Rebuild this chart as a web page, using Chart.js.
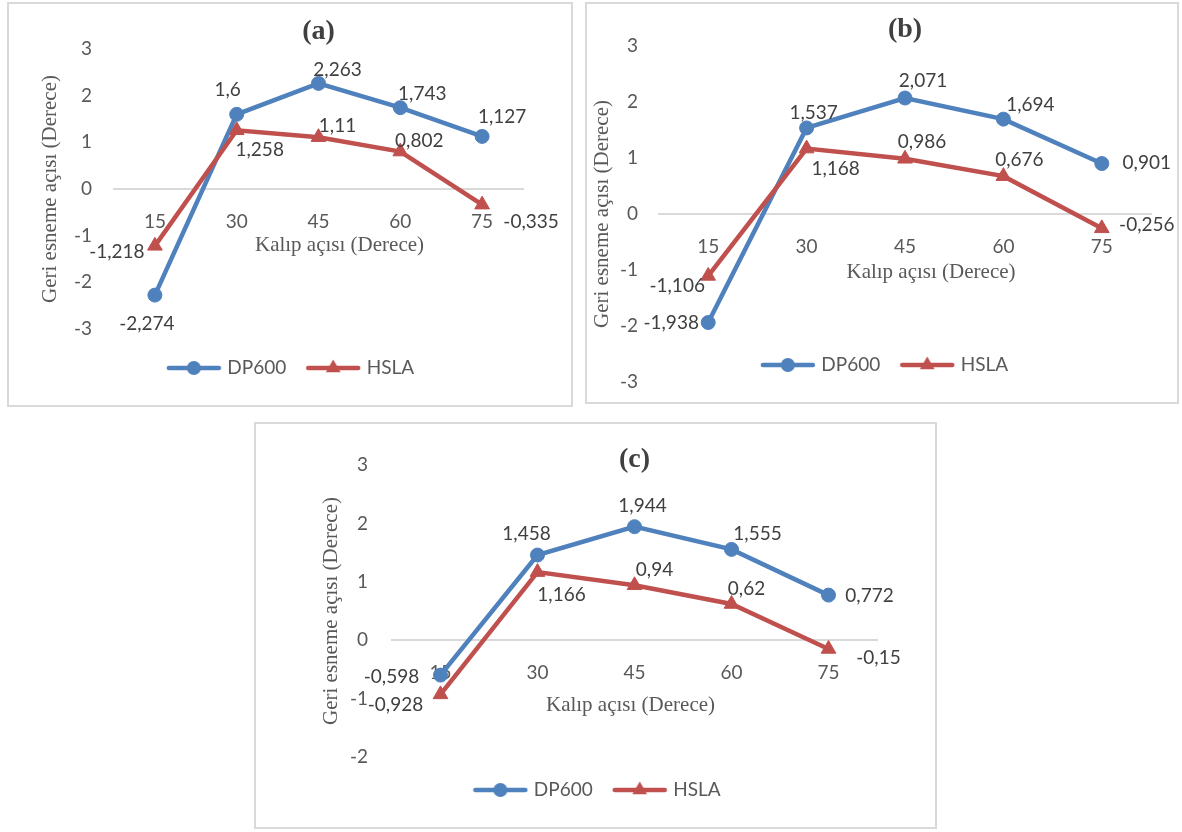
<!DOCTYPE html>
<html><head><meta charset="utf-8">
<script src="https://cdn.jsdelivr.net/npm/chart.js@4.4.1/dist/chart.umd.min.js"></script>
<style>
html,body{margin:0;padding:0;background:#fff;}
body{width:1182px;height:832px;position:relative;overflow:hidden;}
.box{position:absolute;}
.box canvas{position:absolute;left:0;top:0;}
.frame{position:absolute;left:0;top:0;right:0;bottom:0;border:2px solid #d9d9d9;box-sizing:border-box;pointer-events:none;}
</style></head><body>
<div class="box" id="boxA"><canvas id="cA"></canvas><div class="frame"></div></div>
<div class="box" id="boxB"><canvas id="cB"></canvas><div class="frame"></div></div>
<div class="box" id="boxC"><canvas id="cC"></canvas><div class="frame"></div></div>
<script>
// ---------- data ----------
const categories = ['15', '30', '45', '60', '75'];
const seriesNames = ['DP600', 'HSLA'];
const dp600A = [-2.274, 1.6, 2.263, 1.743, 1.127];
const hslaA  = [-1.218, 1.258, 1.11, 0.802, -0.335];
const dp600B = [-1.938, 1.537, 2.071, 1.694, 0.901];
const hslaB  = [-1.106, 1.168, 0.986, 0.676, -0.256];
const dp600C = [-0.598, 1.458, 1.944, 1.555, 0.772];
const hslaC  = [-0.928, 1.166, 0.94, 0.62, -0.15];
const yLimitsA = [-3, 3];
const yLimitsB = [-3, 3];
const yLimitsC = [-2, 3];
const chartTitles = ['(a)', '(b)', '(c)'];
const xAxisTitle = 'Kalıp açısı (Derece)';
const yAxisTitle = 'Geri esneme açısı (Derece)';

// ---------- styles ----------
const BLUE = '#4F81BD', RED = '#C0504D';
const SANS = 'Lato, "Open Sans", sans-serif';
const SERIF = '"Liberation Serif", "Times New Roman", serif';
const TICK_SIZE = 19, AXT_SIZE = 21, TITLE_SIZE = 28, LEG_SIZE = 19;
const TEXT = '#595959', DARK = '#404040';

function legendIcon(color, style) {
  const c = document.createElement('canvas');
  c.width = 56; c.height = 20;
  const g = c.getContext('2d');
  g.strokeStyle = color; g.fillStyle = color;
  g.lineWidth = 4.5; g.lineCap = 'round';
  g.beginPath(); g.moveTo(3, 10); g.lineTo(53, 10); g.stroke();
  g.beginPath();
  if (style === 'circle') {
    g.arc(28, 10, 7, 0, Math.PI * 2);
  } else {
    const r = 8.5;
    g.moveTo(28, 10 - r);
    g.lineTo(28 + r * Math.sin(2 * Math.PI / 3), 10 + r * 0.5);
    g.lineTo(28 - r * Math.sin(2 * Math.PI / 3), 10 + r * 0.5);
    g.closePath();
  }
  g.fill();
  return c;
}
const iconBlue = legendIcon(BLUE, 'circle');
const iconRed = legendIcon(RED, 'triangle');

const valueLabels = {
  id: 'valueLabels',
  afterDatasetsDraw(chart, args, opts) {
    const ctx = chart.ctx;
    ctx.save();
    ctx.font = TICK_SIZE + 'px ' + SANS;
    ctx.fillStyle = DARK;
    ctx.textAlign = 'center';
    ctx.textBaseline = 'middle';
    chart.data.datasets.forEach((ds, i) => {
      const meta = chart.getDatasetMeta(i);
      meta.data.forEach((pt, j) => {
        const off = opts.offsets[i][j];
        ctx.fillText(String(ds.data[j]).replace('.', ','), pt.x + off[0], pt.y + off[1]);
      });
    });
    ctx.restore();
  }
};

// moves the legend box vertically after layout (legend may sit over the plot area)
const legendShift = {
  id: 'legendShift',
  afterLayout(chart, args, opts) {
    const lg = chart.legend;
    if (lg && opts.dy) { lg.top += opts.dy; lg.bottom += opts.dy; }
  }
};

const specs = [
  { id: 'cA', boxId: 'boxA', box: [7, 2, 566, 405], area: {left: 107, right: 516, top: 47, bottom: 327},
    title: chartTitles[0], titleY: 30, legendY: 366, legendX: 285, legendGap: 23,
    yTitleX: 43, yTickPad: 22, xTickGap: 32.5, xTitleGap: 56, xTitleDx: 21,
    ylim: yLimitsA, data: [dp600A, hslaA],
    offsets: [[[-8, 29], [-9, -24], [19, -14], [22, -14], [20, -20]],
              [[-38, 6], [23, 20], [19, -11], [19, -11], [49, 17]]] },
  { id: 'cB', boxId: 'boxB', box: [585, 2, 594, 402], area: {left: 74, right: 566, top: 44, bottom: 380},
    title: chartTitles[1], titleY: 28, legendY: 363, legendX: 301, legendGap: 23,
    yTitleX: 17, yTickPad: 21, xTickGap: 32.5, xTitleGap: 58, xTitleDx: 26,
    ylim: yLimitsB, data: [dp600B, hslaB],
    offsets: [[[-37, 0], [7, -15], [18, -17], [27, -14], [45, -1]],
              [[-31, 10], [29, 20], [17, -17], [16, -16], [45, -3]]] },
  { id: 'cC', boxId: 'boxC', box: [254, 422, 683, 407], area: {left: 138, right: 623, top: 43, bottom: 335},
    title: chartTitles[2], titleY: 38, legendY: 368, legendX: 344.5, legendGap: 23,
    yTitleX: 77, yTickPad: 24, xTickGap: 32.5, xTitleGap: 65, xTitleDx: -4,
    ylim: yLimitsC, data: [dp600C, hslaC],
    offsets: [[[-49, 2], [-11, -21], [8, -21], [26, -16], [41, 1]],
              [[-45, 10], [24, 23], [20, -15], [15, -15], [50, 9]]] }
];

function build(spec) {
  const [X0, Y0, W, H] = spec.box;
  const boxEl = document.getElementById(spec.boxId);
  Object.assign(boxEl.style, {left: X0 + 'px', top: Y0 + 'px', width: W + 'px', height: H + 'px'});
  const cv = document.getElementById(spec.id);
  cv.width = W; cv.height = H;
  cv.style.width = W + 'px'; cv.style.height = H + 'px';
  const a = spec.area;
  const TLH = TITLE_SIZE * 1.2;
  const titlePadTop = spec.titleY - TLH / 2;
  const titlePadBottom = a.top - titlePadTop - TLH;
  const gap = spec.legendGap;
  const legendH = LEG_SIZE + gap + 10;
  const padBottom = H - a.bottom - legendH;
  const legendDy = spec.legendY - (a.bottom + gap + LEG_SIZE / 2);
  const padLeft = 2 * spec.legendX - W;
  const rightW = W - a.right;
  const yW = a.left - padLeft;
  const AXT_LH = AXT_SIZE * 1.2;
  const yTitlePad = spec.yTitleX - padLeft - AXT_LH / 2;
  const TICK_LH = TICK_SIZE * 1.2;
  const xTickPad = spec.xTickGap - TICK_LH / 2;
  const xTitlePad = spec.xTitleGap - (AXT_LH / 2 + TICK_LH + 2 * xTickPad);

  return new Chart(cv, {
    type: 'line',
    data: {
      labels: categories,
      datasets: [
        { label: seriesNames[0], data: spec.data[0], borderColor: BLUE, backgroundColor: BLUE,
          borderWidth: 4.5, pointStyle: 'circle', pointRadius: 7, pointBackgroundColor: BLUE,
          pointBorderColor: BLUE, pointBorderWidth: 1, tension: 0, order: 1, clip: false },
        { label: seriesNames[1], data: spec.data[1], borderColor: RED, backgroundColor: RED,
          borderWidth: 4.5, pointStyle: 'triangle', pointRadius: 8.5, pointBackgroundColor: RED,
          pointBorderColor: RED, pointBorderWidth: 1, tension: 0, order: 0, clip: false }
      ]
    },
    options: {
      responsive: false, animation: false, devicePixelRatio: 1, events: [],
      layout: { padding: { left: padLeft, right: 0, top: 0, bottom: padBottom } },
      scales: {
        x: {
          type: 'category', offset: true, position: { y: 0 },
          grid: { display: false, drawTicks: false },
          border: { display: true, color: '#d9d9d9', width: 2 },
          ticks: { padding: xTickPad, color: TEXT, font: { family: SANS, size: TICK_SIZE }, autoSkip: false, maxRotation: 0 },
          title: { display: true, text: xAxisTitle, color: TEXT, font: { family: SERIF, size: AXT_SIZE },
                   padding: { top: xTitlePad, bottom: 0 } },
          afterUpdate: (s) => {
            if (!s.__shifted) {
              const orig = s.drawTitle;
              s.drawTitle = function () {
                const c = this.ctx; c.save(); c.translate(spec.xTitleDx, 0); orig.call(this); c.restore();
              };
              s.__shifted = true;
            }
          }
        },
        y: {
          position: 'left', min: spec.ylim[0], max: spec.ylim[1],
          grid: { display: false, drawTicks: true, tickLength: spec.yTickPad },
          border: { display: false },
          ticks: { stepSize: 1, padding: 0, color: TEXT, font: { family: SANS, size: TICK_SIZE },
                   callback: (v) => String(v) },
          title: { display: true, text: yAxisTitle, color: TEXT, font: { family: SERIF, size: AXT_SIZE },
                   padding: { top: yTitlePad, bottom: 0 } },
          afterFit: (s) => { s.width = yW; }
        },
        yR: {
          position: 'right', display: true,
          grid: { display: false, drawTicks: false }, border: { display: false },
          ticks: { display: false }, title: { display: false },
          afterFit: (s) => { s.width = rightW; }
        }
      },
      plugins: {
        title: { display: true, text: spec.title, fullSize: false, color: DARK,
                 font: { family: SERIF, size: TITLE_SIZE, weight: 'bold' },
                 padding: { top: titlePadTop, bottom: titlePadBottom } },
        legend: {
          display: true, position: 'bottom', align: 'center', fullSize: true,
          labels: {
            usePointStyle: true, pointStyleWidth: 48, padding: gap, color: TEXT,
            font: { family: SANS, size: LEG_SIZE },
            generateLabels: () => [
              { text: seriesNames[0], pointStyle: iconBlue, fillStyle: BLUE, strokeStyle: BLUE, lineWidth: 0, fontColor: TEXT, hidden: false, datasetIndex: 0 },
              { text: seriesNames[1], pointStyle: iconRed, fillStyle: RED, strokeStyle: RED, lineWidth: 0, fontColor: TEXT, hidden: false, datasetIndex: 1 }
            ]
          }
        },
        tooltip: { enabled: false },
        legendShift: { dy: legendDy },
        valueLabels: { offsets: spec.offsets }
      }
    },
    plugins: [legendShift, valueLabels]
  });
}

specs.forEach(build);
</script>
</body></html>
